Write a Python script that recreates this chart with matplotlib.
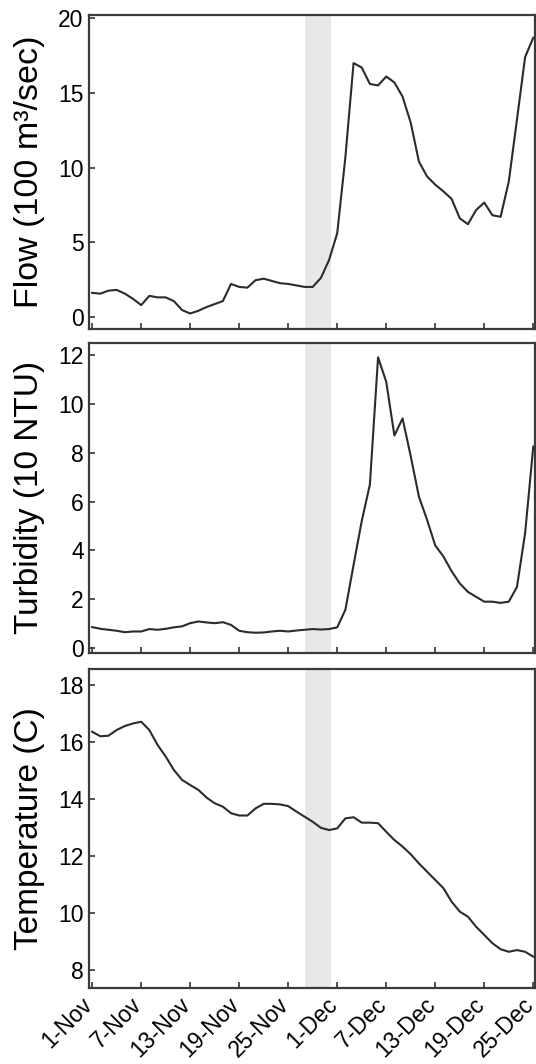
import numpy as np
import matplotlib
matplotlib.use("Agg")
import matplotlib.pyplot as plt
import matplotlib.transforms as mtransforms

plt.rcParams["font.family"] = ["Liberation Sans", "DejaVu Sans"]

# days since 1-Nov
days = np.arange(0, 55)

flow = [1.6, 1.55, 1.75, 1.8, 1.55, 1.2, 0.78, 1.4, 1.3, 1.3,
        1.05, 0.45, 0.22, 0.4, 0.65, 0.85, 1.05, 2.2, 2.0, 1.95,
        2.45, 2.55, 2.4, 2.25, 2.2, 2.1, 2.0, 2.0, 2.6, 3.8,
        5.6, 10.7, 17.0, 16.7, 15.6, 15.5, 16.1, 15.7, 14.75, 13.0,
        10.4, 9.4, 8.85, 8.4, 7.9, 6.6, 6.2, 7.15, 7.65, 6.8,
        6.7, 9.05, 13.2, 17.4, 18.7]

turbidity = [0.86, 0.79, 0.75, 0.71, 0.65, 0.68, 0.68, 0.78, 0.75, 0.79,
             0.85, 0.89, 1.02, 1.09, 1.05, 1.02, 1.06, 0.95, 0.71, 0.65,
             0.63, 0.64, 0.68, 0.71, 0.68, 0.72, 0.75, 0.78, 0.76, 0.78,
             0.85, 1.57, 3.4, 5.2, 6.7, 11.9, 10.9, 8.7, 9.4, 7.85,
             6.2, 5.25, 4.2, 3.75, 3.15, 2.65, 2.3, 2.1, 1.9, 1.9,
             1.85, 1.9, 2.5, 4.7, 8.25]

temperature = [16.36, 16.2, 16.22, 16.42, 16.56, 16.65, 16.71, 16.42, 15.9, 15.49,
               15.02, 14.67, 14.49, 14.32, 14.05, 13.85, 13.73, 13.5, 13.42, 13.42,
               13.67, 13.83, 13.83, 13.81, 13.75, 13.56, 13.38, 13.2, 12.99, 12.91,
               12.97, 13.32, 13.36, 13.17, 13.17, 13.15, 12.85, 12.56, 12.33, 12.06,
               11.74, 11.45, 11.16, 10.87, 10.4, 10.05, 9.87, 9.52, 9.23, 8.94,
               8.73, 8.64, 8.7, 8.64, 8.47]

tick_days = [0, 6, 12, 18, 24, 30, 36, 42, 48, 54]
tick_labels = ["1-Nov", "7-Nov", "13-Nov", "19-Nov", "25-Nov",
               "1-Dec", "7-Dec", "13-Dec", "19-Dec", "25-Dec"]

event = (26, 29.2)

fig = plt.figure(figsize=(5.36, 10.64), dpi=100)
left, right = 89.3 / 536, 534.5 / 536
H = 1064
boxes = [(15, 329.3), (342.7, 652.5), (669, 987.7)]

panels = [
    (flow, "Flow (100 m³/sec)", (-0.84, 20.22), [0, 5, 10, 15, 20]),
    (turbidity, "Turbidity (10 NTU)", (-0.18, 12.5), [0, 2, 4, 6, 8, 10, 12]),
    (temperature, "Temperature (C)", (7.38, 18.56), [8, 10, 12, 14, 16, 18]),
]

for i, ((vals, label, ylim, yticks), (top, bot)) in enumerate(zip(panels, boxes)):
    ax = fig.add_axes([left, 1 - bot / H, right - left, (bot - top) / H])
    ax.axvspan(event[0], event[1], color="#e8e8e8", lw=0, zorder=0)
    ax.plot(days, vals, color="#2b2b2b", lw=1.5)
    ax.set_xlim(-0.35, 54.15)
    ax.set_ylim(*ylim)
    ax.set_yticks(yticks)
    ax.set_xticks(tick_days)
    ax.tick_params(direction="in", length=4, width=1.2, color="#333333",
                   labelsize=16.5, pad=4)
    for s in ax.spines.values():
        s.set_color("#3a3a3a")
        s.set_linewidth(1.6)
    ax.set_ylabel(label, fontsize=24.5 if i == 0 else 24)
    ax.yaxis.set_label_coords(-0.10, 0.5)
    if i == 2:
        ax.set_xticklabels(tick_labels, rotation=45, ha="right", va="center",
                           rotation_mode="anchor")
        ax.tick_params(axis="x", pad=10)
        shift = mtransforms.ScaledTranslation(-0.03, 0, fig.dpi_scale_trans)
        for t in ax.get_xticklabels():
            t.set_transform(t.get_transform() + shift)
    else:
        ax.set_xticklabels([])

plt.savefig("out.png", dpi=100)
